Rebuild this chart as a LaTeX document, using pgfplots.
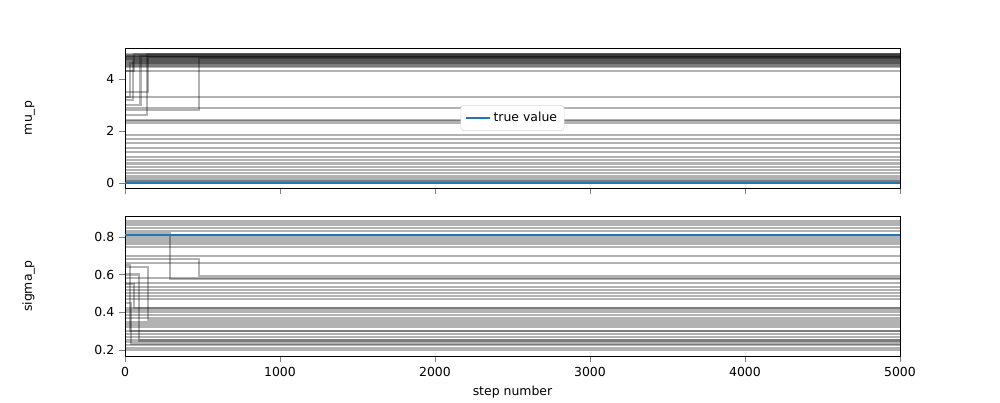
\documentclass[border=0pt]{standalone}
\usepackage{pgfplots}
\pgfplotsset{compat=1.18}
\usepackage{fontspec}
\setmainfont{DejaVu Sans}
\definecolor{mplblue}{HTML}{1F77B4}
\pgfplotsset{
  base/.style={scale only axis, width=7.75in, height=1.4in, xmin=0, xmax=5000,
    tick align=outside, xtick pos=bottom, ytick pos=left,
    /pgf/number format/assume math mode=true, tick label style={font=\small},
    label style={font=\small}, xtick={0,1000,...,5000},
    scaled x ticks=false, xticklabel style={/pgf/number format/1000 sep={}},
    ylabel style={at={(axis description cs:-0.11,0.5)}, anchor=south},
    legend style={font=\small, draw=black!15, rounded corners=2pt, inner sep=3pt}},
  w/.style={black, opacity=0.3, line width=1.5pt, forget plot},
}
\begin{document}
\begin{tikzpicture}
\path (-1.25in,-0.44in) rectangle (8.75in,3.56in);
\begin{axis}[base, at={(0,1.68in)}, ymin=-0.19, ymax=5.19, ytick={0,2,4}, xticklabels={}, ylabel={mu\_p},
  legend style={at={(0.5,0.5)}, anchor=center}]
\pgfplotsinvokeforeach{4.95,4.92,4.9,4.88,4.85,4.83,4.8,4.78,4.75,4.72,4.7,4.66,4.62,4.58,4.55,4.5,4.45,4.3,3.3,2.9,2.42,2.38,2.3,1.85,1.7,1.55,1.35,1.2,1.0,0.9,0.75,0.6,0.5,0.38,0.28,0.18,0.1,0.06,0.02}{
  \addplot[w] coordinates {(0,#1)(5000,#1)};}
\addplot[w] coordinates {(0,2.8)(480,2.8)(480,4.82)(5000,4.82)};
\addplot[w] coordinates {(0,2.6)(140,2.6)(140,4.96)(5000,4.96)};
\addplot[w] coordinates {(0,3.2)(50,3.2)(50,4.7)(5000,4.7)};
\addplot[w] coordinates {(0,3.5)(150,3.5)(150,4.85)(5000,4.85)};
\addplot[w] coordinates {(0,3.0)(100,3.0)(100,4.9)(5000,4.9)};
\addplot[w] coordinates {(0,3.3)(30,3.3)(30,4.6)(5000,4.6)};
\addplot[w] coordinates {(0,4.3)(60,4.3)(60,4.95)(5000,4.95)};
\addplot[mplblue, line width=1.5pt] coordinates {(0,0)(5000,0)};
\addlegendentry{true value}
\end{axis}
\begin{axis}[base, at={(0,0)}, ymin=0.168, ymax=0.91, ytick={0.2,0.4,0.6,0.8}, yticklabel style={/pgf/number format/.cd,fixed,precision=1,fixed zerofill},
  xlabel={step number}, ylabel={sigma\_p}]
\pgfplotsinvokeforeach{0.885,0.875,0.86,0.845,0.83,0.8,0.79,0.775,0.76,0.745,0.7,0.66,0.58,0.555,0.535,0.52,0.5,0.485,0.47,0.42,0.41,0.4,0.385,0.37,0.35,0.335,0.32,0.3,0.285,0.27,0.255,0.24,0.225,0.21,0.2}{
  \addplot[w] coordinates {(0,#1)(5000,#1)};}
\addplot[w] coordinates {(0,0.82)(290,0.82)(290,0.575)(5000,0.575)};
\addplot[w] coordinates {(0,0.68)(480,0.68)(480,0.59)(5000,0.59)};
\addplot[w] coordinates {(0,0.64)(150,0.64)(150,0.36)(5000,0.36)};
\addplot[w] coordinates {(0,0.6)(90,0.6)(90,0.25)(5000,0.25)};
\addplot[w] coordinates {(0,0.45)(40,0.45)(40,0.23)(5000,0.23)};
\addplot[w] coordinates {(0,0.55)(60,0.55)(60,0.42)(5000,0.42)};
\addplot[w] coordinates {(0,0.65)(30,0.65)(30,0.3)(5000,0.3)};
\addplot[mplblue, line width=1.5pt] coordinates {(0,0.81)(5000,0.81)};
\end{axis}
\end{tikzpicture}
\end{document}
